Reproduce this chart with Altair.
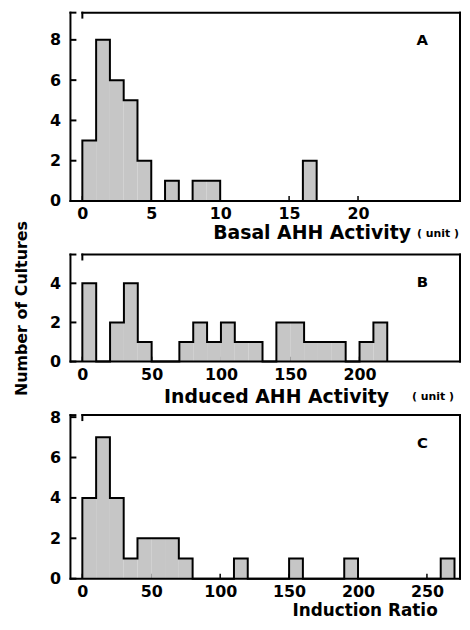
import altair as alt
import pandas as pd

# ---- data ----
# Panel A: Basal AHH activity, bins of width 1 starting at 0
a_bin_start = 0
a_bin_width = 1
a_counts = [3, 8, 6, 5, 2, 0, 1, 0, 1, 1, 0, 0, 0, 0, 0, 0, 2]
a_xticks = [0, 5, 10, 15, 20]
a_yticks = [0, 2, 4, 6, 8]

# Panel B: Induced AHH activity, bins of width 10 starting at 0
b_bin_start = 0
b_bin_width = 10
b_counts = [4, 0, 2, 4, 1, 0, 0, 1, 2, 1, 2, 1, 1, 0, 2, 2, 1, 1, 1, 0, 1, 2]
b_xticks = [0, 50, 100, 150, 200]
b_yticks = [0, 2, 4]

# Panel C: Induction ratio, bins of width 10 starting at 0
c_bin_start = 0
c_bin_width = 10
c_counts = [4, 7, 4, 1, 2, 2, 2, 1, 0, 0, 0, 1, 0, 0, 0, 1, 0, 0, 0, 1,
            0, 0, 0, 0, 0, 0, 1]
c_xticks = [0, 50, 100, 150, 200, 250]
c_yticks = [0, 2, 4, 6, 8]

FONT = "DejaVu Sans"
FILL = "#c6c6c6"
W = 381
OFF = 12  # offset of the y axis line from the plot


def one():
    return pd.DataFrame({"k": [0]})


def panel(start, bw, counts, xmax, ymax, h, xticks, yticks, letter,
          title, title_size, title_x, title_y, unit_x=None, unit_y=None,
          ytitle=None):
    bars = pd.DataFrame({
        "x0": [start + i * bw for i in range(len(counts))],
        "x1": [start + (i + 1) * bw for i in range(len(counts))],
        "n": counts,
    })
    bars = bars[bars["n"] > 0]
    ox = [start] + [start + i * bw for i in range(len(counts))] + [start + len(counts) * bw]
    oy = [0] + list(counts) + [0]
    outline = pd.DataFrame({"x0": ox, "n": oy, "i": list(range(len(ox)))})

    xscale = alt.Scale(domain=[0, xmax], nice=False, zero=False)
    yscale = alt.Scale(domain=[0, ymax], nice=False, zero=False)
    xaxis = alt.Axis(values=xticks, domain=False, ticks=False, grid=False,
                     labelFlush=False, labelPadding=5, labelFont=FONT,
                     labelFontSize=16, labelFontWeight="bold", labelColor="black",
                     title=title, titleFont=FONT, titleFontSize=title_size,
                     titleFontWeight="bold", titleColor="black",
                     titleX=title_x, titleY=title_y, titleAlign="right",
                     titleBaseline="alphabetic")
    yargs = dict(values=yticks, domain=False, ticks=False, grid=False,
                 offset=OFF, labelPadding=10, labelFont=FONT, labelFontSize=16,
                 labelFontWeight="bold", labelColor="black")
    if ytitle:
        yaxis = alt.Axis(title=ytitle, titleFont=FONT, titleFontSize=16,
                         titleFontWeight="bold", titleColor="black",
                         titlePadding=20, **yargs)
    else:
        yaxis = alt.Axis(title=None, **yargs)

    X = lambda f: alt.X(f, scale=xscale, axis=xaxis)
    Y = lambda f: alt.Y(f, scale=yscale, axis=yaxis)

    layers = []
    # upward x ticks
    layers.append(alt.Chart(pd.DataFrame({"x0": xticks})).mark_rule(
        color="black", strokeWidth=1.5).encode(
        x=X("x0:Q"), y=alt.value(h), y2=alt.value(h - 5)))
    # bars (fill only)
    layers.append(alt.Chart(bars).mark_rect(fill=FILL).encode(
        x=X("x0:Q"), x2="x1:Q", y=Y("n:Q"), y2=alt.datum(0)))
    # histogram outline
    layers.append(alt.Chart(outline).mark_line(
        interpolate="step-after", color="black", strokeWidth=2,
        strokeJoin="miter").encode(
        x=X("x0:Q"), y=Y("n:Q"), order=alt.Order("i:Q")))
    # y ticks pointing inward from the offset axis line
    layers.append(alt.Chart(pd.DataFrame({"n": yticks})).mark_rule(
        color="black", strokeWidth=2).encode(
        x=alt.value(-OFF), x2=alt.value(-OFF + 6), y=Y("n:Q")))
    # frame pieces
    rule = dict(color="black", strokeWidth=2, strokeCap="square")
    layers.append(alt.Chart(one()).mark_rule(**rule).encode(
        x=alt.value(0), x2=alt.value(W), y=alt.value(0)))
    layers.append(alt.Chart(one()).mark_rule(**rule).encode(
        x=alt.value(W), y=alt.value(0), y2=alt.value(h)))
    layers.append(alt.Chart(one()).mark_rule(**rule).encode(
        x=alt.value(-OFF), x2=alt.value(W), y=alt.value(h)))
    layers.append(alt.Chart(one()).mark_rule(**rule).encode(
        x=alt.value(-OFF), y=alt.value(0), y2=alt.value(h)))
    layers.append(alt.Chart(one()).mark_rule(**rule).encode(
        x=alt.value(-OFF), x2=alt.value(-OFF + 5), y=alt.value(0)))
    layers.append(alt.Chart(one()).mark_rule(**rule).encode(
        x=alt.value(0), y=alt.value(0), y2=alt.value(5)))
    # panel letter
    layers.append(alt.Chart(pd.DataFrame({"t": [letter]})).mark_text(
        font=FONT, fontSize=15, fontWeight="bold", color="black",
        align="center", baseline="middle").encode(
        text="t:N", x=alt.value(343), y=alt.value(28)))
    if unit_x is not None:
        layers.append(alt.Chart(pd.DataFrame({"t": ["( unit )"]})).mark_text(
            font=FONT, fontSize=11, fontWeight="bold", color="black",
            align="right", baseline="alphabetic").encode(
            text="t:N", x=alt.value(unit_x), y=alt.value(h + unit_y)))
    return alt.layer(*layers).properties(width=W, height=h)


pa = panel(a_bin_start, a_bin_width, a_counts, 27.4, 9.35, 190, a_xticks,
           a_yticks, "A", "Basal AHH Activity", 19, 331, 38, W - 1, 36.5)
pb = panel(b_bin_start, b_bin_width, b_counts, 272.5, 5.47, 108, b_xticks,
           b_yticks, "B", "Induced AHH Activity", 19, 309, 41, 375, 39,
           ytitle="Number of Cultures")
pc = panel(c_bin_start, c_bin_width, c_counts, 274, 8.1, 165, c_xticks,
           c_yticks, "C", "Induction Ratio", 17, 358, 37)

chart = alt.vconcat(pa, pb, pc, spacing=54, bounds="flush").properties(
    padding={"left": 5, "top": 0, "right": 0, "bottom": 0},
    background="white",
).configure_view(stroke=None)

chart.save("out.html", embed_options={"renderer": "svg", "actions": False})
